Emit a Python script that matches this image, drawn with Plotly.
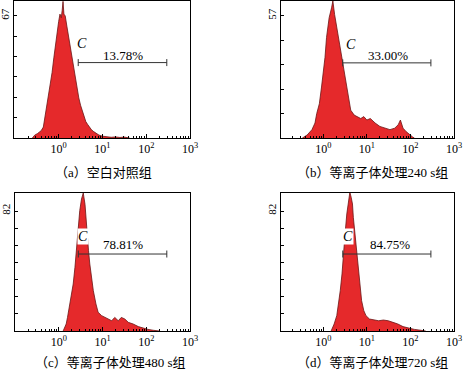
import plotly.graph_objects as go

# ---------------- data ----------------
# log10 of fluorescence intensity, and cell counts
a_log = [-0.60, -0.55, -0.48, -0.40, -0.35, -0.31, -0.27, -0.23, -0.19, -0.15, -0.11, -0.07,
         -0.03, 0.00, 0.03, 0.06, 0.08, 0.10, 0.12, 0.15, 0.19, 0.23, 0.27, 0.30, 0.34, 0.38,
         0.42, 0.46, 0.50, 0.54, 0.58, 0.62, 0.66, 0.70, 0.75, 0.80, 0.86, 0.92, 1.00, 1.10,
         1.20, 1.30, 1.40, 1.50, 1.58, 1.62]
a_cnt = [0, 1.5, 2.5, 4, 6, 12, 17, 23, 29, 36, 44, 52,
         59, 64, 68, 66, 70, 75, 68, 67, 61, 55, 49, 44, 38, 32,
         27, 22, 18, 15, 12, 9, 7.5, 6, 4.5, 3.5, 2.5, 1.6, 1.0, 0.5,
         0.4, 0.6, 0.3, 0.5, 0.2, 0]

b_log = [-0.48, -0.37, -0.26, -0.19, -0.15, -0.09, -0.04, 0.00, 0.04, 0.075, 0.135, 0.19,
         0.22, 0.26, 0.31, 0.36, 0.41, 0.45, 0.51, 0.56, 0.60, 0.63, 0.71, 0.78, 0.86, 0.93,
         1.00, 1.08, 1.19, 1.30, 1.42, 1.53, 1.64, 1.72, 1.77, 1.83, 1.90, 1.98, 2.05, 2.09]
b_cnt = [0, 1.4, 3.9, 7, 11.4, 16, 23.8, 30, 37.7, 47, 56.2, 60.8,
         64, 57.7, 51.6, 47, 40.8, 34.6, 28.4, 22.3, 16, 13, 10.7, 10, 9.1, 10,
         8.4, 9.1, 7, 5.4, 4.6, 3.9, 4.6, 6.2, 8.4, 4.6, 3, 1.5, 0.5, 0]

c_log = [0.10, 0.17, 0.20, 0.24, 0.29, 0.33, 0.37, 0.40, 0.44, 0.48, 0.52, 0.56,
         0.60, 0.62, 0.65, 0.68, 0.71, 0.75, 0.79, 0.85, 0.90, 0.98, 1.05, 1.13, 1.21, 1.28,
         1.36, 1.43, 1.51, 1.59, 1.70, 1.82, 1.93, 2.04, 2.16, 2.30]
c_cnt = [0, 4.8, 9.3, 16.2, 23, 32.1, 43.5, 54.9, 68.6, 82.3, 90.2, 94.3,
         86.6, 77.7, 68.6, 54.9, 45.8, 36.7, 27.6, 18.5, 12.8, 10.5, 9.3, 8.2, 7, 9.3,
         7, 9.3, 8.2, 5.9, 4.8, 3, 2, 1.1, 0.5, 0]

d_log = [0.18, 0.25, 0.31, 0.35, 0.39, 0.43, 0.46, 0.50, 0.54, 0.58, 0.61, 0.64,
         0.67, 0.69, 0.72, 0.76, 0.80, 0.84, 0.88, 0.93, 0.98, 1.06, 1.15, 1.27, 1.38, 1.49,
         1.60, 1.71, 1.83, 1.94, 2.09, 2.24, 2.35]
d_cnt = [0, 4.8, 10.5, 18.5, 27.6, 39, 52.6, 66.3, 80, 89, 94.8, 91.4,
         86.8, 77.7, 68.6, 54.9, 41.2, 29.8, 20.7, 13.9, 10.5, 8.2, 7.5, 7, 7.5, 7,
         5.9, 4.8, 3, 2, 1.1, 0.5, 0]

panel_logs = [a_log, b_log, c_log, d_log]
panel_cnts = [a_cnt, b_cnt, c_cnt, d_cnt]
y_max_label = [67, 57, 82, 82]          # labelled tick on the count axis
y_tick_steps = [6, 5, 7, 7]             # number of tick intervals up to the label
y_top = [75.2, 64.0, 94.3, 94.3]        # top of the count axis
gate_pct = ["13.78%", "33.00%", "78.81%", "84.75%"]
gate_bounds = [2.8, 295]                # gate C, fluorescence intensity
gate_height = [41.4, 35.1, 52.6, 52.6]
c_label_pos = [(0.54, 51.7), (0.635, 43.9), (0.55, 64.5), (0.56, 64.5)]
pct_label_pos = [(1.48, 45.2), (1.48, 38.5), (1.47, 58.8), (1.54, 58.8)]
captions = ["（a）空白对照组", "（b）等离子体处理240 s组",
            "（c）等离子体处理480 s组", "（d）等离子体处理720 s组"]
x_tick_exp = [0, 1, 2, 3]

# ---------------- layout geometry ----------------
W, H = 463, 369
boxes = [(14, 190, 1, 138), (281, 454, 1, 138), (15, 190, 193, 331), (281, 454, 193, 331)]
x_ranges = [[-1.02, 3.0], [-0.97, 3.0], [-1.0, 3.0], [-0.97, 3.0]]
caption_pos = [(103, 172), (372, 172), (110, 362), (372, 362)]

SERIF = "Liberation Serif, Noto Sans CJK SC, serif"
RED = "#E5292B"
EDGE = "#6b1414"

fig = go.Figure()
layout = dict(width=W, height=H, margin=dict(l=0, r=0, t=0, b=0, autoexpand=False),
              paper_bgcolor="white", plot_bgcolor="white", showlegend=False)
annotations = []

for i in range(4):
    n = i + 1
    xa = "x" if n == 1 else f"x{n}"
    ya = "y" if n == 1 else f"y{n}"
    xl, xr, yt, yb = boxes[i]
    xs = [10 ** v for v in panel_logs[i]]
    fig.add_trace(go.Scatter(x=xs, y=panel_cnts[i], mode="lines", fill="tozeroy",
                             fillcolor=RED, line=dict(color=EDGE, width=0.8),
                             xaxis=xa, yaxis=ya, hoverinfo="skip"))
    # gate line with end caps
    gy = gate_height[i]
    fig.add_trace(go.Scatter(x=gate_bounds, y=[gy, gy], mode="lines+markers",
                             line=dict(color="#333333", width=1),
                             marker=dict(symbol="line-ns", size=5,
                                         line=dict(color="#333333", width=1)),
                             xaxis=xa, yaxis=ya, hoverinfo="skip"))
    step = y_max_label[i] / y_tick_steps[i]
    tv = [k * step for k in range(y_tick_steps[i] + 1)]
    tt = [""] * y_tick_steps[i] + [str(y_max_label[i])]
    layout["xaxis" if n == 1 else f"xaxis{n}"] = dict(
        type="log", range=x_ranges[i], automargin=False,
        domain=[xl / W, xr / W], anchor=ya,
        showline=True, linecolor="black", linewidth=1, mirror=True,
        showgrid=False, zeroline=False,
        ticks="inside", ticklen=4, tickcolor="black",
        tickvals=[10 ** e for e in x_tick_exp],
        ticktext=[f"10<sup>{e}</sup>" for e in x_tick_exp],
        tickfont=dict(family=SERIF, size=12, color="black"),
        minor=dict(ticks="inside", ticklen=2, tickcolor="black", dtick="D1", showgrid=False),
    )
    layout["yaxis" if n == 1 else f"yaxis{n}"] = dict(
        range=[0, y_top[i]], domain=[1 - yb / H, 1 - yt / H], anchor=xa, automargin=False,
        showline=True, linecolor="black", linewidth=1, mirror=True,
        showgrid=False, zeroline=False,
        ticks="inside", ticklen=3, tickcolor="black",
        tickvals=tv, ticktext=tt, tickangle=-90, ticklabelstandoff=0,
        tickfont=dict(family=SERIF, size=11, color="black"),
    )
    cx, cy = c_label_pos[i]
    annotations.append(dict(x=cx, y=cy, xref=xa, yref=ya, text="<i>C</i>", showarrow=False,
                            xanchor="center", yanchor="middle",
                            font=dict(family=SERIF, size=14, color="black"),
                            bgcolor="white" if i >= 2 else "rgba(0,0,0,0)", borderpad=0))
    px_, py_ = pct_label_pos[i]
    annotations.append(dict(x=px_, y=py_, xref=xa, yref=ya, text=gate_pct[i], showarrow=False,
                            xanchor="center", yanchor="middle",
                            font=dict(family=SERIF, size=13, color="black")))
    capx, capy = caption_pos[i]
    annotations.append(dict(x=capx / W, y=1 - capy / H, xref="paper", yref="paper",
                            text=captions[i], showarrow=False,
                            xanchor="center", yanchor="middle",
                            font=dict(family=SERIF, size=13, color="black")))

layout["annotations"] = annotations
fig.update_layout(**layout)
fig.write_html("out.html", config={"displayModeBar": False},
               post_script="document.body.style.margin='0px';")
